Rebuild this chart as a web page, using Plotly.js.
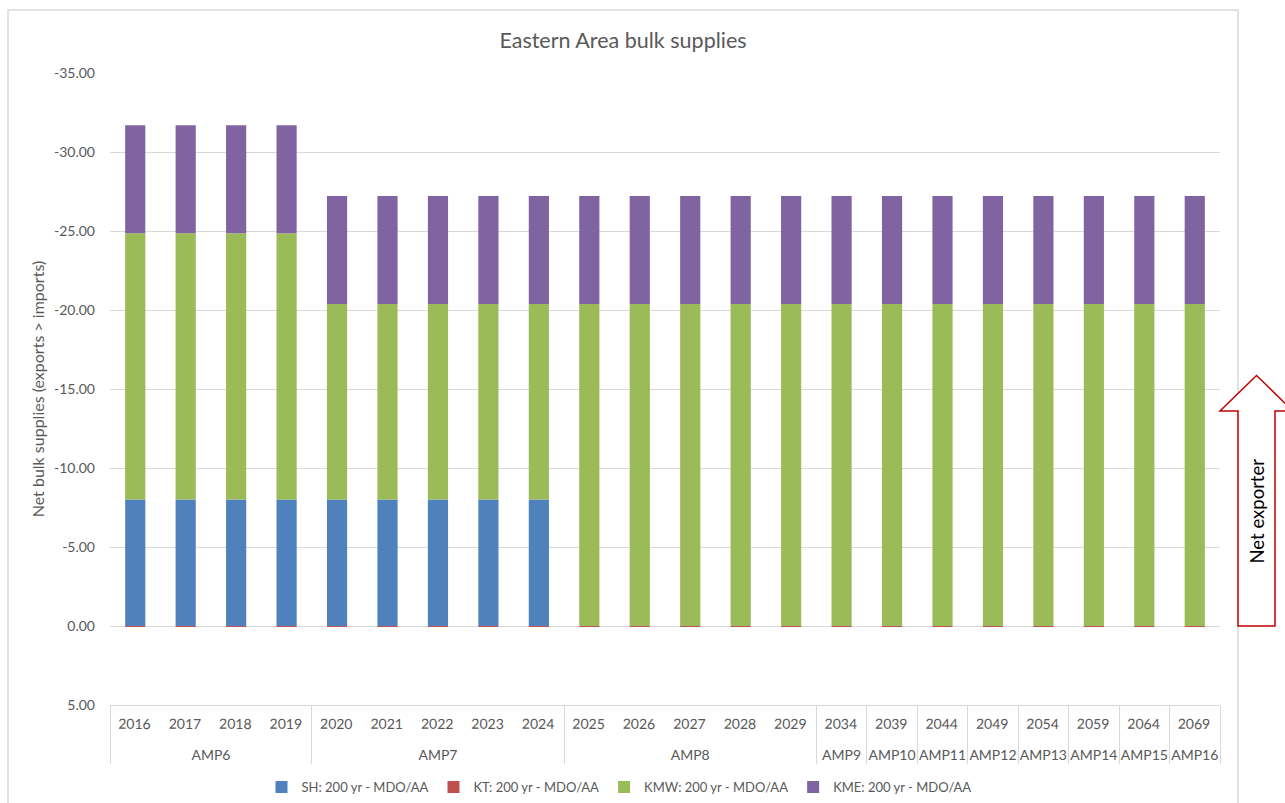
<!DOCTYPE html>
<html>
<head>
<meta charset="utf-8">
<script src="https://cdn.plot.ly/plotly-3.0.1.min.js"></script>
<style>
html, body { margin: 0; padding: 0; background: #ffffff; }
#chart { width: 1285px; height: 803px; }
</style>
</head>
<body>
<div id="chart"></div>
<script>
// ---- data ----
const ampGroups = ['AMP6','AMP6','AMP6','AMP6',
  'AMP7','AMP7','AMP7','AMP7','AMP7',
  'AMP8','AMP8','AMP8','AMP8','AMP8',
  'AMP9','AMP10','AMP11','AMP12','AMP13','AMP14','AMP15','AMP16'];
const years = ['2016','2017','2018','2019',
  '2020','2021','2022','2023','2024',
  '2025','2026','2027','2028','2029',
  '2034','2039','2044','2049','2054','2059','2064','2069'];
const shValues  = [-8.0,-8.0,-8.0,-8.0, -8.0,-8.0,-8.0,-8.0,-8.0, 0,0,0,0,0, 0,0,0,0,0,0,0,0];
const ktValues  = [0.06,0.06,0.06,0.06, 0.06,0.06,0.06,0.06,0.06, 0.06,0.06,0.06,0.06,0.06, 0.06,0.06,0.06,0.06,0.06,0.06,0.06,0.06];
const kmwValues = [-16.85,-16.85,-16.85,-16.85, -12.38,-12.38,-12.38,-12.38,-12.38,
  -20.38,-20.38,-20.38,-20.38,-20.38, -20.38,-20.38,-20.38,-20.38,-20.38,-20.38,-20.38,-20.38];
const kmeValues = [-6.85,-6.85,-6.85,-6.85, -6.84,-6.84,-6.84,-6.84,-6.84,
  -6.84,-6.84,-6.84,-6.84,-6.84, -6.84,-6.84,-6.84,-6.84,-6.84,-6.84,-6.84,-6.84];
const seriesNames = ['SH: 200 yr - MDO/AA','KT: 200 yr - MDO/AA','KMW: 200 yr - MDO/AA','KME: 200 yr - MDO/AA'];
const yTickVals = [-35,-30,-25,-20,-15,-10,-5,0,5];
const yTickText = yTickVals.map(v => v.toFixed(2));

// ---- chart ----
const FONT = 'Lato, "Open Sans", sans-serif';
const TXT = '#595959';
const GRID = '#d9d9d9';
const colors = ['#4F81BD','#C0504D','#9BBB59','#8064A2'];
const vals = [shValues, ktValues, kmwValues, kmeValues];

const traces = vals.map((v, i) => ({
  type: 'bar',
  x: [ampGroups, years],
  y: v,
  name: seriesNames[i],
  marker: { color: colors[i], line: { width: 0 } },
  hoverinfo: 'name+y'
}));

const layout = {
  width: 1285,
  height: 803,
  margin: { l: 110, r: 65, t: 73, b: 98, autoexpand: false },
  paper_bgcolor: '#ffffff',
  plot_bgcolor: '#ffffff',
  font: { family: FONT, color: TXT, size: 13 },
  barmode: 'relative',
  bargap: 0.6,
  title: {
    text: 'Eastern Area bulk supplies',
    font: { family: FONT, size: 21.5, color: TXT },
    xref: 'container', x: 623 / 1285, xanchor: 'center',
    yref: 'container', y: 1 - 40 / 803, yanchor: 'middle'
  },
  xaxis: {
    type: 'multicategory',
    showdividers: true,
    dividercolor: GRID,
    dividerwidth: 1,
    showline: true,
    linecolor: GRID,
    linewidth: 1,
    ticks: '',
    showgrid: false,
    tickangle: 0.3,
    ticklabelstandoff: 6,
    ticklabelshift: -17,
    tickfont: { family: FONT, size: 14, color: TXT },
    automargin: false
  },
  yaxis: {
    range: [5, -35],
    tickmode: 'array',
    tickvals: yTickVals,
    ticktext: yTickText,
    showgrid: true,
    gridcolor: GRID,
    gridwidth: 1,
    zeroline: false,
    showline: false,
    ticks: '',
    ticklabelstandoff: 14,
    tickfont: { family: FONT, size: 14, color: TXT },
    title: {
      text: 'Net bulk supplies (exports > imports)',
      font: { family: FONT, size: 16, color: TXT },
      standoff: 5
    },
    automargin: false
  },
  legend: {
    orientation: 'h',
    x: (619 - 110) / 1110,
    xanchor: 'center',
    y: (705 - 787) / 632,
    yanchor: 'middle',
    traceorder: 'normal',
    font: { family: FONT, size: 13, color: TXT },
    itemwidth: 30,
    bgcolor: 'rgba(0,0,0,0)'
  },
  shapes: [
    {
      type: 'rect', xref: 'paper', yref: 'paper',
      x0: (8 - 110) / 1110, x1: (1238 - 110) / 1110,
      y0: (705 - 830) / 632, y1: (705 - 10) / 632,
      line: { color: GRID, width: 1.5 }, fillcolor: 'rgba(0,0,0,0)', layer: 'below'
    },
    {
      type: 'path', xref: 'paper', yref: 'paper',
      path: (function () {
        const px = p => ((p - 110) / 1110).toFixed(5);
        const py = p => ((705 - p) / 632).toFixed(5);
        return 'M' + px(1238) + ',' + py(626) +
          ' L' + px(1238) + ',' + py(411) +
          ' L' + px(1220) + ',' + py(411) +
          ' L' + px(1256.5) + ',' + py(375.5) +
          ' L' + px(1293) + ',' + py(411) +
          ' L' + px(1275) + ',' + py(411) +
          ' L' + px(1275) + ',' + py(626) + ' Z';
      })(),
      line: { color: '#C00000', width: 1.5 },
      fillcolor: '#ffffff',
      layer: 'above'
    }
  ],
  annotations: [
    {
      xref: 'paper', yref: 'paper',
      x: (1256.5 - 110) / 1110, y: (705 - 511) / 632,
      text: 'Net exporter', textangle: -90, showarrow: false,
      font: { family: FONT, size: 18.5, color: '#000000' },
      xanchor: 'center', yanchor: 'middle'
    }
  ],
  showlegend: true
};

Plotly.newPlot('chart', traces, layout, { displayModeBar: false, staticPlot: true });
</script>
</body>
</html>
